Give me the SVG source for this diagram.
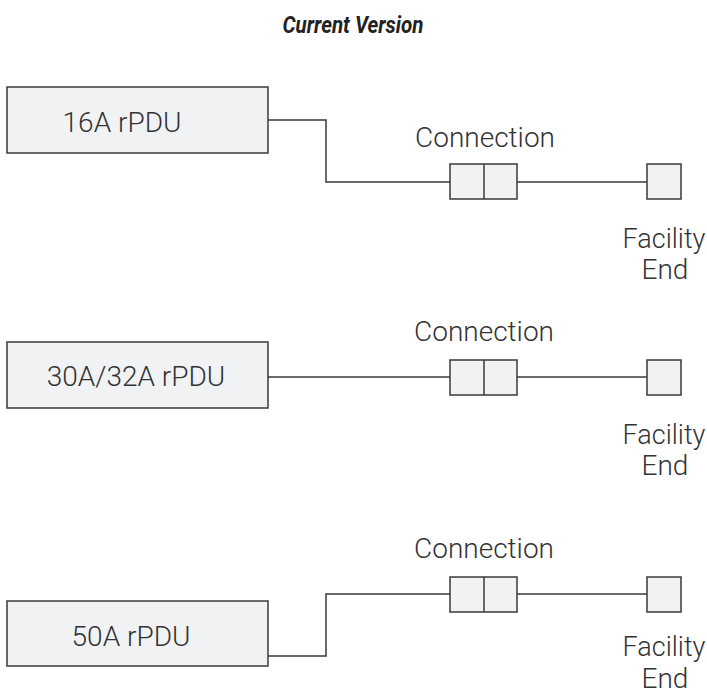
<svg xmlns="http://www.w3.org/2000/svg" width="707" height="694" viewBox="0 0 707 694">
<style>
.box{fill:#f1f2f4;stroke:#3a3a3a;stroke-width:1.5}
.wire{fill:none;stroke:#3a3a3a;stroke-width:1.5}
.lbl{font-family:Roboto,"Liberation Sans",sans-serif;font-weight:300;font-size:28px;fill:#333;text-anchor:middle}
.fac{font-family:Roboto,"Liberation Sans",sans-serif;font-weight:300;font-size:27px;fill:#333;text-anchor:middle}
.title{font-family:Roboto,"Liberation Sans",sans-serif;font-weight:700;font-style:italic;font-size:23px;fill:#222;text-anchor:middle}
</style>
<rect width="707" height="694" fill="#fff"/>
<text class="title" x="353" y="33" textLength="141" lengthAdjust="spacingAndGlyphs">Current Version</text>
<g id="connectors">
<path class="wire" d="M268,120 H326 V182 H450"/>
<path class="wire" d="M517,182 H647"/>
<path class="wire" d="M268,377 H450"/>
<path class="wire" d="M517,377 H647"/>
<path class="wire" d="M268,656 H326 V594 H450"/>
<path class="wire" d="M517,594 H647"/>
</g>
<g id="rpdu16"><rect class="box" x="7" y="87" width="261" height="66"/><text class="lbl" x="122" y="132">16A rPDU</text></g>
<g id="conn1"><rect class="box" x="450" y="164" width="67" height="35"/><line class="wire" x1="484" y1="164" x2="484" y2="199"/><text class="lbl" x="485" y="147">Connection</text></g>
<g id="fac1"><rect class="box" x="647" y="164" width="34" height="35"/><text class="fac" x="664" y="248">Facility</text><text class="lbl" x="665" y="279">End</text></g>
<g id="rpdu30"><rect class="box" x="7" y="342" width="261" height="66"/><text class="lbl" x="136" y="386">30A/32A rPDU</text></g>
<g id="conn2"><rect class="box" x="450" y="360" width="67" height="35"/><line class="wire" x1="484" y1="360" x2="484" y2="395"/><text class="lbl" x="484" y="341">Connection</text></g>
<g id="fac2"><rect class="box" x="647" y="360" width="34" height="35"/><text class="fac" x="664" y="444">Facility</text><text class="lbl" x="665" y="475">End</text></g>
<g id="rpdu50"><rect class="box" x="7" y="601" width="261" height="65"/><text class="lbl" x="131" y="646">50A rPDU</text></g>
<g id="conn3"><rect class="box" x="450" y="577" width="67" height="35"/><line class="wire" x1="484" y1="577" x2="484" y2="612"/><text class="lbl" x="484" y="558">Connection</text></g>
<g id="fac3"><rect class="box" x="647" y="577" width="34" height="35"/><text class="fac" x="664" y="656">Facility</text><text class="lbl" x="665" y="688">End</text></g>
</svg>
